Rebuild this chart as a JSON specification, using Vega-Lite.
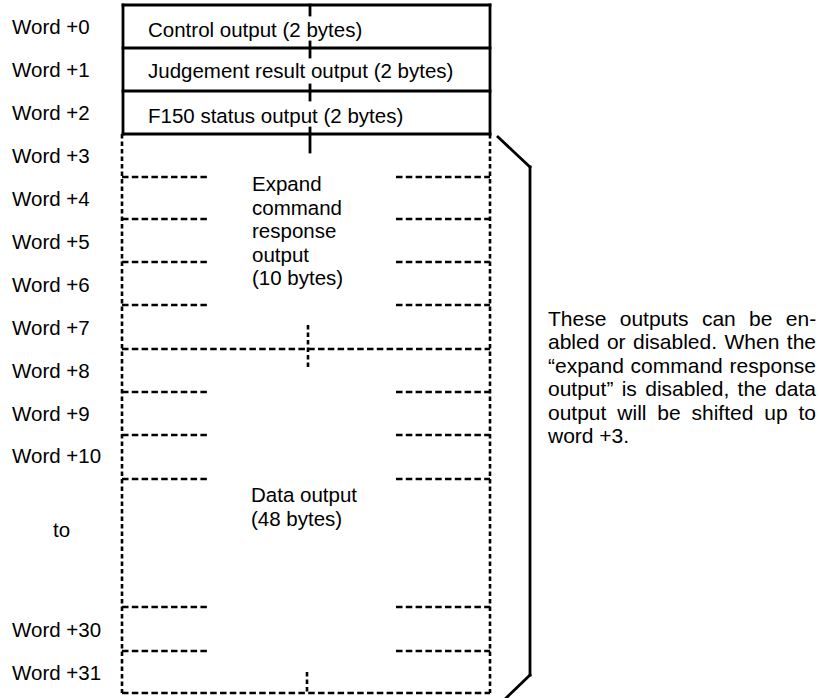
{
  "$schema": "https://vega.github.io/schema/vega-lite/v6.json",
  "width": 819,
  "height": 698,
  "padding": 0,
  "autosize": {"type": "none"},
  "background": "white",
  "config": {"view": {"stroke": null}},
  "datasets": {
    "segments": [
      {"style": "solid", "x": 123, "y": 5, "x2": 490, "y2": 5},
      {"style": "solid", "x": 123, "y": 48, "x2": 490, "y2": 48},
      {"style": "solid", "x": 123, "y": 91, "x2": 490, "y2": 91},
      {"style": "solid", "x": 123, "y": 134, "x2": 490, "y2": 134},
      {"style": "solid", "x": 123, "y": 5, "x2": 123, "y2": 134},
      {"style": "solid", "x": 490, "y": 5, "x2": 490, "y2": 134},
      {"style": "solid", "x": 310, "y": 5, "x2": 310, "y2": 15},
      {"style": "solid", "x": 310, "y": 42, "x2": 310, "y2": 57},
      {"style": "solid", "x": 310, "y": 85, "x2": 310, "y2": 100},
      {"style": "solid", "x": 310, "y": 128, "x2": 310, "y2": 152},
      {"style": "solid", "x": 498, "y": 137, "x2": 530, "y2": 167},
      {"style": "solid", "x": 530, "y": 167, "x2": 530, "y2": 675},
      {"style": "solid", "x": 530, "y": 675, "x2": 503, "y2": 701},
      {"style": "hdash", "x": 122, "y": 177, "x2": 210, "y2": 177},
      {"style": "hdash", "x": 396, "y": 177, "x2": 490, "y2": 177},
      {"style": "hdash", "x": 122, "y": 219, "x2": 210, "y2": 219},
      {"style": "hdash", "x": 396, "y": 219, "x2": 490, "y2": 219},
      {"style": "hdash", "x": 122, "y": 262, "x2": 210, "y2": 262},
      {"style": "hdash", "x": 396, "y": 262, "x2": 490, "y2": 262},
      {"style": "hdash", "x": 122, "y": 305, "x2": 210, "y2": 305},
      {"style": "hdash", "x": 396, "y": 305, "x2": 490, "y2": 305},
      {"style": "hdash", "x": 122, "y": 349, "x2": 490, "y2": 349},
      {"style": "hdash", "x": 122, "y": 392, "x2": 210, "y2": 392},
      {"style": "hdash", "x": 396, "y": 392, "x2": 490, "y2": 392},
      {"style": "hdash", "x": 122, "y": 435, "x2": 210, "y2": 435},
      {"style": "hdash", "x": 396, "y": 435, "x2": 490, "y2": 435},
      {"style": "hdash", "x": 122, "y": 479, "x2": 210, "y2": 479},
      {"style": "hdash", "x": 396, "y": 479, "x2": 490, "y2": 479},
      {"style": "hdash", "x": 122, "y": 607, "x2": 210, "y2": 607},
      {"style": "hdash", "x": 396, "y": 607, "x2": 490, "y2": 607},
      {"style": "hdash", "x": 122, "y": 651, "x2": 210, "y2": 651},
      {"style": "hdash", "x": 396, "y": 651, "x2": 490, "y2": 651},
      {"style": "hdash", "x": 122, "y": 693, "x2": 490, "y2": 693},
      {"style": "vdash", "x": 122, "y": 134, "x2": 122, "y2": 693},
      {"style": "vdash", "x": 490, "y": 134, "x2": 490, "y2": 693},
      {"style": "vdash", "x": 308, "y": 325, "x2": 308, "y2": 370},
      {"style": "vdash", "x": 307, "y": 672, "x2": 307, "y2": 693}
    ],
    "labels": [
      {"x": 12, "y": 28, "text": "Word +0"},
      {"x": 12, "y": 71, "text": "Word +1"},
      {"x": 12, "y": 114, "text": "Word +2"},
      {"x": 12, "y": 157, "text": "Word +3"},
      {"x": 12, "y": 200, "text": "Word +4"},
      {"x": 12, "y": 243, "text": "Word +5"},
      {"x": 12, "y": 286, "text": "Word +6"},
      {"x": 12, "y": 329, "text": "Word +7"},
      {"x": 12, "y": 372, "text": "Word +8"},
      {"x": 12, "y": 415, "text": "Word +9"},
      {"x": 12, "y": 457, "text": "Word +10"},
      {"x": 53, "y": 531, "text": "to"},
      {"x": 12, "y": 631, "text": "Word +30"},
      {"x": 12, "y": 674, "text": "Word +31"},
      {"x": 148, "y": 31, "text": "Control output (2 bytes)"},
      {"x": 148, "y": 72, "text": "Judgement result output (2 bytes)"},
      {"x": 148, "y": 117, "text": "F150 status output (2 bytes)"},
      {"x": 252, "y": 185, "text": "Expand"},
      {"x": 252, "y": 208.5, "text": "command"},
      {"x": 252, "y": 232, "text": "response"},
      {"x": 252, "y": 255.5, "text": "output"},
      {"x": 252, "y": 279, "text": "(10 bytes)"},
      {"x": 251, "y": 496, "text": "Data output"},
      {"x": 251, "y": 519.5, "text": "(48 bytes)"}
    ],
    "note": [
      {"x": 548, "y": 319.5, "text": "These"},
      {"x": 619.7, "y": 319.5, "text": "outputs"},
      {"x": 701.9, "y": 319.5, "text": "can"},
      {"x": 749.1, "y": 319.5, "text": "be"},
      {"x": 785.8, "y": 319.5, "text": "en-"},
      {"x": 548, "y": 343, "text": "abled"},
      {"x": 606.9, "y": 343, "text": "or"},
      {"x": 633, "y": 343, "text": "disabled."},
      {"x": 724.5, "y": 343, "text": "When"},
      {"x": 786.8, "y": 343, "text": "the"},
      {"x": 548, "y": 366.5, "text": "“expand"},
      {"x": 630.6, "y": 366.5, "text": "command"},
      {"x": 729.6, "y": 366.5, "text": "response"},
      {"x": 548, "y": 390, "text": "output”"},
      {"x": 621.7, "y": 390, "text": "is"},
      {"x": 645.2, "y": 390, "text": "disabled,"},
      {"x": 737.6, "y": 390, "text": "the"},
      {"x": 775.1, "y": 390, "text": "data"},
      {"x": 548, "y": 413.5, "text": "output"},
      {"x": 617.3, "y": 413.5, "text": "will"},
      {"x": 657.2, "y": 413.5, "text": "be"},
      {"x": 691.5, "y": 413.5, "text": "shifted"},
      {"x": 764.2, "y": 413.5, "text": "up"},
      {"x": 798.5, "y": 413.5, "text": "to"},
      {"x": 548, "y": 437, "text": "word +3."}
    ]
  },
  "encoding": {
    "x": {"field": "x", "type": "quantitative", "scale": {"domain": [0, 819], "nice": false, "zero": false}, "axis": null},
    "y": {"field": "y", "type": "quantitative", "scale": {"domain": [0, 698], "nice": false, "zero": false, "reverse": true}, "axis": null}
  },
  "layer": [
    {
      "data": {"name": "segments"},
      "transform": [{"filter": "datum.style === 'solid'"}],
      "mark": {"type": "rule", "color": "black", "strokeWidth": 2.8, "strokeCap": "square"},
      "encoding": {"x2": {"field": "x2"}, "y2": {"field": "y2"}}
    },
    {
      "data": {"name": "segments"},
      "transform": [{"filter": "datum.style === 'hdash'"}],
      "mark": {"type": "rule", "color": "black", "strokeWidth": 2.6, "strokeDash": [6.5, 3.3]},
      "encoding": {"x2": {"field": "x2"}, "y2": {"field": "y2"}}
    },
    {
      "data": {"name": "segments"},
      "transform": [{"filter": "datum.style === 'vdash'"}],
      "mark": {"type": "rule", "color": "black", "strokeWidth": 2.6, "strokeDash": [4.5, 3]},
      "encoding": {"x2": {"field": "x2"}, "y2": {"field": "y2"}}
    },
    {
      "data": {"name": "labels"},
      "mark": {"type": "text", "align": "left", "baseline": "middle", "font": "Liberation Sans", "fontSize": 20.5, "color": "black"},
      "encoding": {"text": {"field": "text"}}
    },
    {
      "data": {"name": "note"},
      "mark": {"type": "text", "align": "left", "baseline": "middle", "font": "Liberation Sans", "fontSize": 21, "color": "black"},
      "encoding": {"text": {"field": "text"}}
    }
  ]
}
